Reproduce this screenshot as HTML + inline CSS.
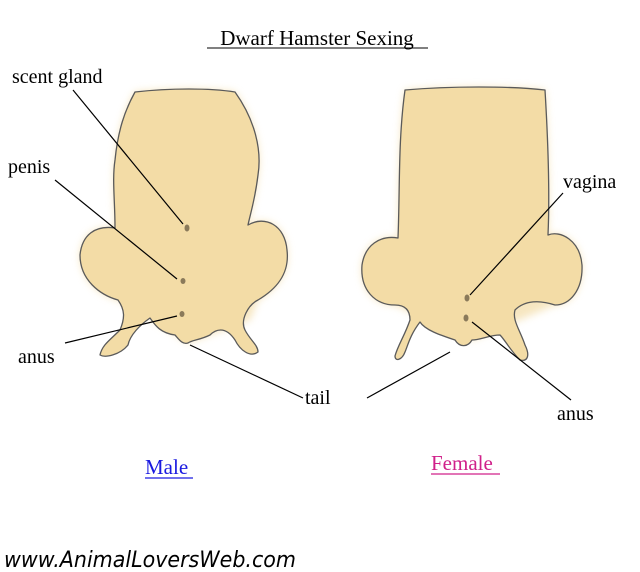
<!DOCTYPE html>
<html><head><meta charset="utf-8"><style>
body{margin:0;background:#fff;width:640px;height:572px;overflow:hidden}
svg{display:block}
text{font-family:"Liberation Serif",serif;fill:#000}
</style></head><body>
<svg width="640" height="572" viewBox="0 0 640 572">
<defs><filter id="g" x="-20%" y="-20%" width="140%" height="140%"><feGaussianBlur stdDeviation="4"/></filter></defs>
<g fill="#f3dca6" stroke="none" filter="url(#g)" opacity="0.7">
<path d="M135,92 C170,88 210,88 235,92 C255,120 262,150 258,175 C255,200 250,215 248,225 C265,215 285,225 287,250 C290,275 275,290 258,300 L250,320 L188,343 L150,318 L118,300 C100,295 80,280 80,255 C82,235 95,225 115,228 C115,200 112,180 115,160 C118,130 125,110 135,92 Z"/>
<path d="M405,90 C450,86 510,86 545,90 C548,140 550,190 548,235 C560,230 580,240 582,265 C583,290 570,305 555,305 L472,340 L395,305 C375,305 360,290 362,265 C365,245 380,235 398,238 C400,190 398,140 405,90 Z"/>
</g>
<g fill="#f3dca6" stroke="#5a5a5a" stroke-width="1.3" stroke-linejoin="round">
<path d="M135,92 C170,88 210,88 235,92 C255,120 262,150 258,175 C255,200 250,215 248,225 C265,215 285,225 287,250 C290,275 275,290 258,300 C248,305 240,320 245,330 C250,340 258,345 258,352 C250,358 240,350 235,340 C225,325 215,330 210,335 C200,340 192,340 188,343 C182,345 178,338 175,335 C160,333 155,325 150,318 C140,325 130,335 128,345 C120,355 105,358 100,355 C102,345 110,340 120,330 C125,318 125,310 118,300 C100,295 80,280 80,255 C82,235 95,225 115,228 C115,200 112,180 115,160 C118,130 125,110 135,92 Z"/>
<path d="M405,90 C450,86 510,86 545,90 C548,140 550,190 548,235 C560,230 580,240 582,265 C583,290 570,305 555,305 C540,300 525,300 515,310 C512,320 520,330 525,345 C530,355 528,362 520,360 C510,350 505,340 500,335 C490,335 480,340 472,340 C468,347 460,348 455,340 C440,335 425,330 420,322 C410,335 408,345 405,352 C402,360 395,362 395,356 C398,345 405,335 410,320 C410,310 405,305 395,305 C375,305 360,290 362,265 C365,245 380,235 398,238 C400,190 398,140 405,90 Z"/>
</g>
<g fill="#8a7a5a">
<ellipse cx="187" cy="228" rx="2.5" ry="3.5"/><ellipse cx="183" cy="281" rx="2.5" ry="3"/><ellipse cx="182" cy="314" rx="2.5" ry="3"/>
<ellipse cx="467" cy="298" rx="2.5" ry="3.5"/><ellipse cx="466" cy="318" rx="2.5" ry="3.5"/>
</g>
<g stroke="#000" stroke-width="1.2">
<line x1="73" y1="90" x2="183" y2="224"/>
<line x1="55" y1="180" x2="177" y2="279"/>
<line x1="65" y1="343" x2="177" y2="316"/>
<line x1="190" y1="345" x2="303" y2="398"/>
<line x1="367" y1="398" x2="450" y2="352"/>
<line x1="563" y1="193" x2="470" y2="295"/>
<line x1="571" y1="400" x2="472" y2="322"/>
</g>
<text x="317" y="45" font-size="21" text-anchor="middle">Dwarf Hamster Sexing</text>
<line x1="207" y1="48" x2="428" y2="48" stroke="#000" stroke-width="1"/>
<text x="12" y="83" font-size="20">scent gland</text>
<text x="8" y="173" font-size="20">penis</text>
<text x="18" y="363" font-size="20">anus</text>
<text x="305" y="404" font-size="20">tail</text>
<text x="563" y="188" font-size="20">vagina</text>
<text x="557" y="420" font-size="20">anus</text>
<text x="145" y="474" font-size="21" style="fill:#1a1ae0">Male</text>
<line x1="145" y1="478" x2="193" y2="478" stroke="#1a1ae0" stroke-width="1.2"/>
<text x="431" y="470" font-size="21" style="fill:#d0208a">Female</text>
<line x1="431" y1="474" x2="500" y2="474" stroke="#d0208a" stroke-width="1.2"/>
<text x="4" y="567" font-size="22" style="font-family:'DejaVu Sans',sans-serif;font-style:italic" textLength="292" lengthAdjust="spacingAndGlyphs">www.AnimalLoversWeb.com</text>
</svg>
</body></html>
